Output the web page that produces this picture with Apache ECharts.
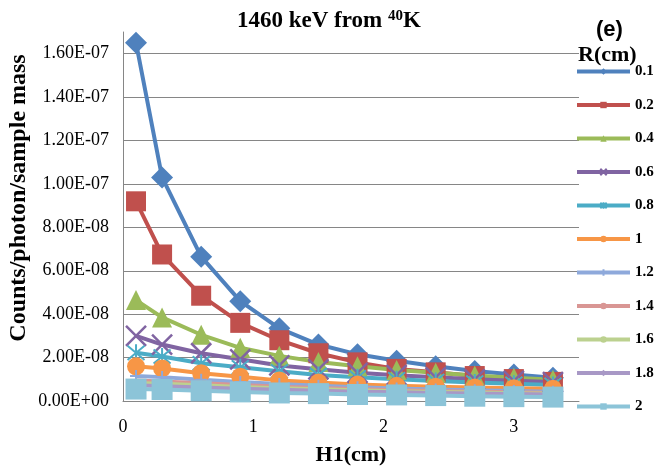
<!DOCTYPE html>
<html>
<head>
<meta charset="utf-8">
<script src="https://cdn.jsdelivr.net/npm/echarts@6/dist/echarts.min.js"></script>
<style>html,body{margin:0;padding:0;background:#fff}#c{width:656px;height:471px}</style>
</head>
<body>
<div id="c"></div>
<script>
const xValues = [0.1, 0.3, 0.6, 0.9, 1.2, 1.5, 1.8, 2.1, 2.4, 2.7, 3.0, 3.3];
const seriesNames = ['0.1', '0.2', '0.4', '0.6', '0.8', '1', '1.2', '1.4', '1.6', '1.8', '2'];
const r01 = [16.5e-8, 10.3e-8, 6.65e-8, 4.6e-8, 3.35e-8, 2.6e-8, 2.15e-8, 1.85e-8, 1.6e-8, 1.38e-8, 1.22e-8, 1.07e-8];
const r02 = [9.2e-8, 6.75e-8, 4.85e-8, 3.6e-8, 2.8e-8, 2.2e-8, 1.78e-8, 1.48e-8, 1.32e-8, 1.15e-8, 1.01e-8, 0.88e-8];
const r04 = [4.65e-8, 3.85e-8, 3.05e-8, 2.45e-8, 2.08e-8, 1.8e-8, 1.6e-8, 1.43e-8, 1.3e-8, 1.17e-8, 1.07e-8, 0.98e-8];
const r06 = [3.0e-8, 2.6e-8, 2.2e-8, 1.92e-8, 1.64e-8, 1.46e-8, 1.3e-8, 1.19e-8, 1.09e-8, 1.0e-8, 0.93e-8, 0.87e-8];
const r08 = [2.22e-8, 2.05e-8, 1.74e-8, 1.55e-8, 1.37e-8, 1.2e-8, 1.09e-8, 1.0e-8, 0.92e-8, 0.85e-8, 0.79e-8, 0.74e-8];
const r10 = [1.6e-8, 1.5e-8, 1.28e-8, 1.12e-8, 0.95e-8, 0.85e-8, 0.76e-8, 0.7e-8, 0.66e-8, 0.62e-8, 0.59e-8, 0.56e-8];
const r12 = [1.15e-8, 1.1e-8, 0.98e-8, 0.88e-8, 0.78e-8, 0.7e-8, 0.63e-8, 0.58e-8, 0.53e-8, 0.49e-8, 0.46e-8, 0.43e-8];
const r14 = [0.95e-8, 0.9e-8, 0.82e-8, 0.74e-8, 0.66e-8, 0.6e-8, 0.55e-8, 0.5e-8, 0.46e-8, 0.43e-8, 0.4e-8, 0.37e-8];
const r16 = [0.83e-8, 0.79e-8, 0.72e-8, 0.65e-8, 0.59e-8, 0.54e-8, 0.49e-8, 0.45e-8, 0.42e-8, 0.39e-8, 0.36e-8, 0.34e-8];
const r18 = [0.72e-8, 0.68e-8, 0.62e-8, 0.57e-8, 0.52e-8, 0.47e-8, 0.43e-8, 0.4e-8, 0.37e-8, 0.34e-8, 0.32e-8, 0.3e-8];
const r20 = [0.55e-8, 0.53e-8, 0.47e-8, 0.42e-8, 0.37e-8, 0.34e-8, 0.3e-8, 0.28e-8, 0.25e-8, 0.22e-8, 0.2e-8, 0.18e-8];
const allValues = [r01, r02, r04, r06, r08, r10, r12, r14, r16, r18, r20];
const xTicks = [0, 1, 2, 3];

const colors = ['#4F81BD', '#C0504D', '#9BBB59', '#8064A2', '#4BACC6', '#F79646', '#8EA9DB', '#D99694', '#BCD18F', '#A898C6', '#8CC4D8'];
const symbols = [
  {symbol: 'diamond', size: 22},
  {symbol: 'rect', size: 20},
  {symbol: 'triangle', size: 20},
  {symbol: 'path://M0,0L10,10M10,0L0,10', size: 20, stroke: 2.5},
  {symbol: 'path://M0,0L10,10M10,0L0,10M5,-1L5,11', size: 17, stroke: 2},
  {symbol: 'circle', size: 18},
  {symbol: 'path://M5,0L5,10M0,5L10,5', size: 12, stroke: 2},
  {symbol: 'none', size: 0},
  {symbol: 'none', size: 0},
  {symbol: 'diamond', size: 5},
  {symbol: 'rect', size: 21}
];

function fmt(v) {
  if (v === 0) return '0.00E+00';
  let e = Math.floor(Math.log10(Math.abs(v)));
  let m = v / Math.pow(10, e);
  if (Math.round(m * 100) / 100 >= 10) { m /= 10; e++; }
  return m.toFixed(2) + 'E' + (e < 0 ? '-' : '+') + String(Math.abs(e)).padStart(2, '0');
}

const serif = 'Liberation Serif';
const series = seriesNames.map((name, i) => {
  const s = symbols[i];
  const item = {color: colors[i]};
  if (s.stroke) { item.borderColor = colors[i]; item.borderWidth = s.stroke; }
  return {
    name: name,
    type: 'line',
    data: xValues.map((x, j) => [x, allValues[i][j]]),
    symbol: s.symbol,
    symbolSize: s.size,
    showSymbol: s.symbol !== 'none',
    lineStyle: {color: colors[i], width: 4},
    itemStyle: item,
    animation: false
  };
});

const chart = echarts.init(document.getElementById('c'), null, {renderer: 'canvas'});
chart.setOption({
  animation: false,
  color: colors,
  title: {
    text: '1460 keV from {sup|40}K',
    left: 232, top: 4,
    textStyle: {
      fontFamily: serif, fontWeight: 'bold', fontSize: 23, color: '#000',
      rich: {sup: {fontFamily: serif, fontWeight: 'bold', fontSize: 15, color: '#000', verticalAlign: 'top', padding: [0, 0, 10, 0]}}
    }
  },
  graphic: [
    {type: 'text', left: 596, top: 19, style: {text: '(e)', font: 'bold 22px "Liberation Sans"', fill: '#000'}},
    {type: 'text', left: 578, top: 44, style: {text: 'R(cm)', font: 'bold 22px "Liberation Serif"', fill: '#000'}},
    {type: 'text', x: 19, y: 198, rotation: Math.PI / 2,
     style: {text: 'Counts/photon/sample mass', font: 'bold 24px "Liberation Serif"', fill: '#000', align: 'center', verticalAlign: 'middle'}}
  ],
  legend: {
    orient: 'vertical',
    left: 575, top: 64, padding: 0,
    itemWidth: 53, itemHeight: 8, itemGap: 18.5,
    data: seriesNames,
    lineStyle: {width: 4},
    textStyle: {fontFamily: serif, fontWeight: 'bold', fontSize: 15, color: '#000', lineHeight: 14}
  },
  grid: {left: 123, right: 77, top: 32, bottom: 68},
  xAxis: {
    type: 'value', min: 0, max: 3.5, interval: 1,
    name: 'H1(cm)', nameLocation: 'middle', nameGap: 43,
    nameTextStyle: {fontFamily: serif, fontWeight: 'bold', fontSize: 22, color: '#000'},
    axisLine: {show: true, lineStyle: {color: '#868686', width: 1}},
    axisTick: {show: false},
    splitLine: {show: false},
    axisLabel: {
      fontFamily: serif, fontSize: 18, color: '#000', margin: 17, showMaxLabel: false,
      formatter: v => (xTicks.indexOf(v) >= 0 ? String(v) : '')
    }
  },
  yAxis: {
    type: 'value', min: 0, max: 1.7e-7, interval: 2e-8,
    axisLine: {show: true, lineStyle: {color: '#868686', width: 1}},
    axisTick: {show: false},
    splitLine: {show: true, showMaxLine: false, lineStyle: {color: '#868686', width: 1}},
    axisLabel: {fontFamily: serif, fontSize: 18, color: '#000', margin: 14, showMaxLabel: false, formatter: fmt}
  },
  series: series
});
</script>
</body>
</html>
